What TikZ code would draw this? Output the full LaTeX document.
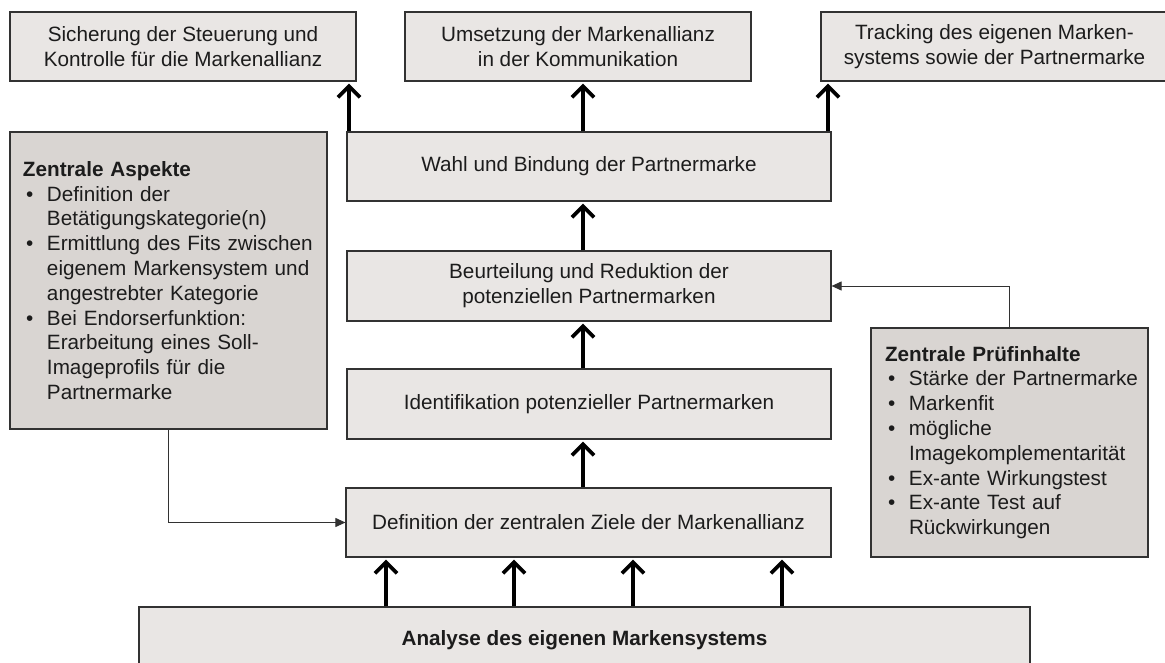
\documentclass[tikz,border=0pt]{standalone}
\usepackage{fontspec}
\setmainfont{Liberation Sans}
\usetikzlibrary{arrows.meta}

\definecolor{boxgray}{RGB}{233,230,228}
\definecolor{sidegray}{RGB}{217,213,210}
\definecolor{framegray}{RGB}{50,50,50}
\definecolor{textgray}{RGB}{28,28,28}

\newcommand{\pkt}{\hspace*{3pt}\makebox[21pt][l]{\textbullet}}
\newcommand{\weiter}{\hspace*{24pt}}

\begin{document}
\begin{tikzpicture}
[
  x=1pt, y=-1pt,
  box/.style = {draw=framegray, fill=boxgray, line width=1.2pt, text=textgray,
    align=center, inner sep=0pt, minimum height=69pt,
    font=\fontsize{20.7}{24.8}\selectfont},
  sidebox/.style = {box, fill=sidegray, align=left, inner xsep=13pt, inner ysep=0pt},
  bigarrow/.style = {line width=3.8pt, -{Straight Barb[length=11pt,width=22pt]}, shorten >=2pt},
  linkarrow/.style = {line width=1pt, draw=framegray, -{Triangle[length=10pt,width=9pt]}},
]
\useasboundingbox[fill=white] (0,0) rectangle (1165,663);

\node (sich) at (183,46.5) [box, minimum width=346pt] {Sicherung der Steuerung und\\Kontrolle für die Markenallianz};
\node (ums) at (578,46.5) [box, minimum width=346pt] {Umsetzung der Markenallianz\\in der Kommunikation};
\node (track) at (994.5,46.5) [box, minimum width=347pt] {Tracking des eigenen Marken-\\systems sowie der Partnermarke};

\node (wahl) at (589,166.5) [box, minimum width=484pt] {Wahl und Bindung der Partnermarke};
\node (beurt) at (589,286) [box, minimum width=484pt, minimum height=70pt] {Beurteilung und Reduktion der\\potenziellen Partnermarken};
\node (ident) at (589,404) [box, minimum width=484pt, minimum height=70pt] {Identifikation potenzieller Partnermarken};
\node (defin) at (588.5,522.5) [box, minimum width=485pt] {Definition der zentralen Ziele der Markenallianz};
\node (analyse) at (584.5,640) [box, minimum width=891pt, minimum height=66pt] {\bfseries Analyse des eigenen Markensystems};

\node (aspekte) at (168.5,280.5) [sidebox, text width=291pt, minimum height=297pt]
  {{\bfseries Zentrale Aspekte}\\
   \pkt Definition der\\
   \weiter Betätigungskategorie(n)\\
   \pkt Ermittlung des Fits zwischen\\
   \weiter eigenem Markensystem und\\
   \weiter angestrebter Kategorie\\
   \pkt Bei Endorserfunktion:\\
   \weiter Erarbeitung eines Soll-\\
   \weiter Imageprofils für die\\
   \weiter Partnermarke};

\node (pruef) at (1009.5,442.5) [sidebox, text width=249pt, inner xsep=14pt, minimum height=229pt]
  {{\bfseries Zentrale Prüfinhalte}\\
   \pkt\mbox{Stärke der Partnermarke}\\
   \pkt Markenfit\\
   \pkt mögliche\\
   \weiter\mbox{Imagekomplementarität}\\
   \pkt Ex-ante Wirkungstest\\
   \pkt Ex-ante Test auf\\
   \weiter Rückwirkungen};

% thick arrows
\foreach \xpos in {386,514,633,782}
  \draw[bigarrow] (\xpos,0 |- analyse.north) -- (\xpos,0 |- defin.south);
\draw[bigarrow] (583,0 |- defin.north) -- (583,0 |- ident.south);
\draw[bigarrow] (583,0 |- ident.north) -- (583,0 |- beurt.south);
\draw[bigarrow] (583,0 |- beurt.north) -- (583,0 |- wahl.south);
\draw[bigarrow] (349,0 |- wahl.north) -- (349,0 |- sich.south);
\draw[bigarrow] (583,0 |- wahl.north) -- (583,0 |- ums.south);
\draw[bigarrow] (828,0 |- wahl.north) -- (828,0 |- track.south);

% side links
\draw[linkarrow] (aspekte.south) |- (defin.west);
\draw[linkarrow] (pruef.north) |- (beurt.east);

\end{tikzpicture}
\end{document}
